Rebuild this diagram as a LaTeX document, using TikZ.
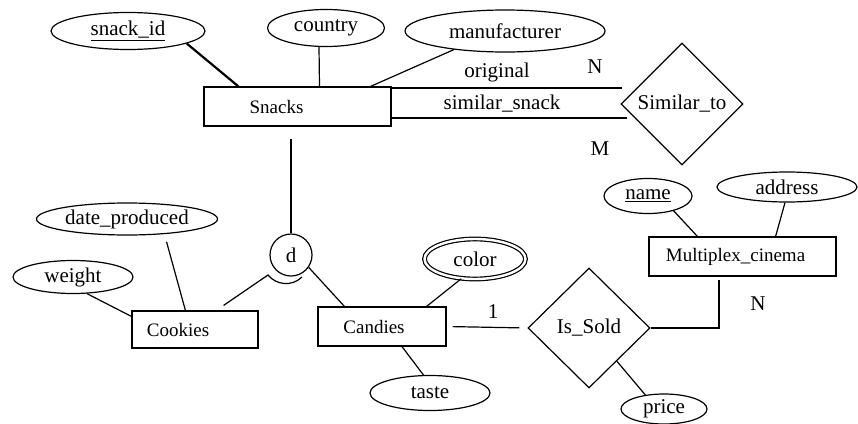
\documentclass[tikz,border=0pt]{standalone}
\usepackage{fontspec}
\setmainfont{Liberation Serif}
\usetikzlibrary{shapes.geometric}

\begin{document}
\begin{tikzpicture}
            [x=1pt, y=-1pt, line width=1.2pt,
             attr/.style={draw, ellipse, inner sep=0pt, font=\fontsize{21}{24}\selectfont},
             entity/.style={draw, rectangle, inner sep=0pt},
             etext/.style={font=\fontsize{19}{22}\selectfont},
             rel/.style={draw, diamond, inner sep=0pt, font=\fontsize{21}{24}\selectfont},
             card/.style={font=\fontsize{21}{24}\selectfont}]
            \useasboundingbox (0,0) rectangle (858,423);

            % Draw the entities
            \node[entity, minimum width=187, minimum height=39,
                  label={[etext, xshift=-21pt]center:Snacks}] (snacks) at (297.5,106.5) {};
            \node[entity, minimum width=126, minimum height=37,
                  label={[etext, xshift=-17pt]center:Cookies}] (cookies) at (195,329.5) {};
            \node[entity, minimum width=128, minimum height=39,
                  label={[etext, xshift=-8pt]center:Candies}] (candies) at (382,326.5) {};
            \node[entity, minimum width=187, minimum height=39,
                  label={[etext, xshift=-7pt]center:Multiplex\_cinema}] (cinema) at (742.5,256.5) {};

            % Draw the relationships
            \node[rel, minimum width=122, minimum height=122] (similar) at (682,104) {Similar\_to};
            \node[rel, minimum width=122, minimum height=120] (sold) at (589,328) {Is\_Sold};
            \node[draw, circle, minimum size=42, inner sep=0pt,
                  font=\fontsize{21}{24}\selectfont] (disj) at (291,255) {d};

            % Draw the attributes
            \node[attr, minimum width=154, minimum height=37] (snackid) at (128,31) {\underline{snack\_id}};
            \node[attr, minimum width=117, minimum height=37] (country) at (326,28) {country};
            \node[attr, minimum width=200, minimum height=42] (manuf) at (505,31) {manufacturer};
            \node[attr, minimum width=181, minimum height=32] (datep) at (127,219) {date\_produced};
            \node[attr, minimum width=120, minimum height=33] (weight) at (73,277) {weight};
            \node[attr, double, double distance=2.4pt, minimum width=101, minimum height=40] (color) at (475,259) {color};
            \node[attr, minimum width=120, minimum height=35] (taste) at (430,393) {taste};
            \node[attr, minimum width=86, minimum height=30] (price) at (664,409) {price};
            \node[attr, minimum width=88, minimum height=35] (name) at (648,196) {\underline{name}};
            \node[attr, minimum width=140, minimum height=30] (address) at (787,187) {address};

            % Role names and cardinalities
            \node[card] (original) at (497,72) {original};
            \node[card] (simsnack) at (502,104) {similar\_snack};
            \node[card] (cardN) at (595,67) {N};
            \node[card] (cardM) at (600,149) {M};
            \node[card] (cardone) at (493,312) {1};
            \node[card] (cardcin) at (758,304) {N};

            % Free ends
            \coordinate (origend) at (622,88);
            \coordinate (simend) at (627,118);
            \coordinate (cupl) at (268,275);
            \coordinate (cupr) at (302,277);

            % Draw lines to Snacks
            \draw[line width=2.2pt] (snackid.-12) -- ([xshift=35pt]snacks.north west);
            \draw ([xshift=-7pt]country.south) -- ([xshift=22pt]snacks.north);
            \draw (manuf.200) -- ([xshift=-21pt]snacks.north east);
            \draw (snacks.east |- origend) -- (origend);
            \draw (snacks.east |- simend) -- (simend);

            % Draw the specialization
            \draw[shorten <=12pt] (disj.north |- snacks.south) -- (disj.north);
            \draw ([xshift=-35pt, yshift=5pt]cookies.north east) -- (cupl)
                  .. controls (276,285) and (292,287) .. (cupr);
            \draw (disj.-35) -- ([xshift=27pt]candies.north west);

            % Draw lines to the subclass attributes
            \draw (weight.-50) -- ([yshift=-6pt]cookies.north west);
            \draw[shorten <=8pt] (datep.-22) -- ([xshift=54pt]cookies.north west);
            \draw (color.235) -- ([xshift=-20pt]candies.north east);
            \draw ([xshift=20pt]candies.south) -- (taste.110);

            % Draw Is_Sold and Multiplex_cinema
            \draw[shorten <=6pt, shorten >=8pt] (candies.east) -- (sold.west);
            \draw[shorten >=3pt] (sold.east) -| ([xshift=-23.5pt]cinema.south);
            \draw (sold.-50) -- (price.143);
            \draw (name.-30) -- ([xshift=49pt]cinema.north west);
            \draw ([xshift=-2pt]address.south) -- ([xshift=-61pt]cinema.north east);
        \end{tikzpicture}
\end{document}
